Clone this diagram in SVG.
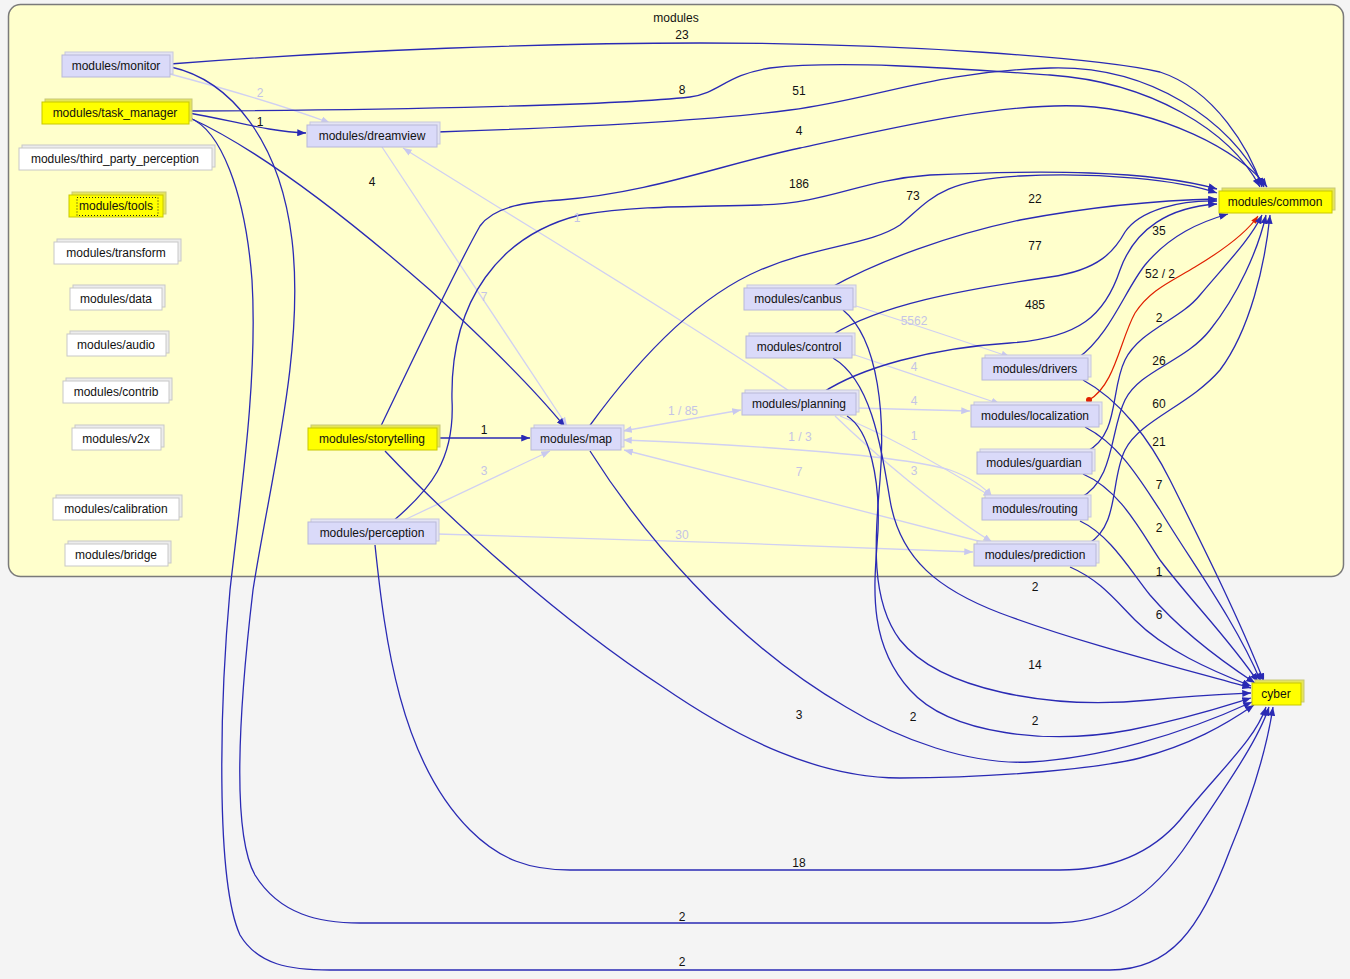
<svg xmlns="http://www.w3.org/2000/svg" width="1350" height="979" viewBox="0 0 1350 979">
<style>
.node text{font-family:"Liberation Sans",Arial,sans-serif;font-size:12px;text-anchor:middle;fill:#111}
.lav .back{fill:#e4e4f4;stroke:#c8c8dc}
.lav .front{fill:#dadaf9;stroke:#b8b8d8}
.yel .back{fill:#e6e658;stroke:#c8c878}
.yel .front{fill:#ffff00;stroke:#c8c800}
.wht .back{fill:#ececec;stroke:#c8c8c8}
.wht .front{fill:#ffffff;stroke:#c8c8c8}
.e{fill:none;stroke:#2a2ab4;stroke-width:1.3}
.l{fill:none;stroke:#d0d0f2;stroke-width:1.3}
.r{fill:none;stroke:#e02000;stroke-width:1.2}
.lb{font-family:"Liberation Sans",Arial,sans-serif;font-size:12px;text-anchor:middle;fill:#111}
.ll{fill:#c4c4e6}
</style>
<defs>
<marker id="a" viewBox="0 0 10 8" refX="10" refY="4" markerWidth="9" markerHeight="7" orient="auto" markerUnits="userSpaceOnUse"><path d="M0,0L10,4L0,8z" fill="#2a2ab4"/></marker>
<marker id="al" viewBox="0 0 10 8" refX="10" refY="4" markerWidth="9" markerHeight="7" orient="auto" markerUnits="userSpaceOnUse"><path d="M0,0L10,4L0,8z" fill="#c8c8ee"/></marker>
<marker id="als" viewBox="0 0 10 8" refX="10" refY="4" markerWidth="9" markerHeight="7" orient="auto-start-reverse" markerUnits="userSpaceOnUse"><path d="M0,0L10,4L0,8z" fill="#c8c8ee"/></marker>
<marker id="ar" viewBox="0 0 10 8" refX="10" refY="4" markerWidth="8" markerHeight="6" orient="auto" markerUnits="userSpaceOnUse"><path d="M0,0L10,4L0,8z" fill="#e02000"/></marker>
<marker id="dr" viewBox="0 0 10 10" refX="5" refY="5" markerWidth="6" markerHeight="6" markerUnits="userSpaceOnUse"><circle cx="5" cy="5" r="5" fill="#e02000"/></marker>
</defs>
<rect x="0" y="0" width="1350" height="979" fill="#f4f4f4"/>
<g id="cluster-modules">
<rect x="8.5" y="4.5" width="1335" height="572" rx="12" fill="#ffffcc" stroke="#7a7a7a" stroke-width="1.5"/>
<text x="676" y="22" style="font-family:'Liberation Sans',Arial,sans-serif;font-size:12px;text-anchor:middle;fill:#111">modules</text>
</g>
<g id="edges">
<path class="l" d="M170,74 C230,90 290,108 330,123" marker-end="url(#al)"/>
<path class="l" d="M382,147 L567,426" marker-end="url(#al)"/>
<path class="l" d="M792,393 C700,330 550,240 403,148" marker-end="url(#al)"/>
<path class="l" d="M623,431 L741,410" marker-start="url(#als)" marker-end="url(#als)"/>
<path class="l" d="M623,440 C750,445 900,455 950,470 C972,478 985,488 992,497" marker-start="url(#als)" marker-end="url(#als)"/>
<path class="l" d="M990,544 C900,520 750,482 624,450" marker-end="url(#al)"/>
<path class="l" d="M400,522 L550,451" marker-end="url(#al)"/>
<path class="l" d="M437,534 C600,538 800,545 973,552" marker-end="url(#al)"/>
<path class="l" d="M853,305 C900,320 960,340 1010,357" marker-end="url(#al)"/>
<path class="l" d="M852,354 C900,370 960,390 1000,404" marker-end="url(#al)"/>
<path class="l" d="M856,408 C900,409 940,410 970,411" marker-end="url(#al)"/>
<path class="l" d="M840,416 C880,432 940,465 992,497" marker-end="url(#al)"/>
<path class="l" d="M835,416 C870,450 940,510 992,542" marker-end="url(#al)"/>
<path class="e" d="M170,64 C350,50 550,43 700,43 C900,43 1100,58 1160,72 C1215,90 1250,150 1262,187" marker-end="url(#a)"/>
<path class="e" d="M189,111 C400,110 620,105 690,97 C720,93 725,75 770,68 C840,60 950,68 1050,75 C1150,82 1230,130 1260,187" marker-end="url(#a)"/>
<path class="e" d="M437,132 C560,128 700,122 790,110 C880,98 930,72 1050,68 C1150,65 1230,120 1264,187" marker-end="url(#a)"/>
<path class="e" d="M380,428 C420,345 455,270 480,226 C495,205 530,202 560,200 C650,193 720,165 800,148 C900,126 1000,103 1080,106 C1160,110 1240,150 1267,187" marker-end="url(#a)"/>
<path class="e" d="M392,522 C430,490 455,460 452,400 C450,300 500,235 580,215 C640,205 700,207 760,205 C830,203 860,180 930,175 C1040,170 1150,170 1217,189" marker-end="url(#a)"/>
<path class="e" d="M588,428 C630,370 690,300 760,270 C820,245 870,245 900,225 C930,200 940,180 1020,176 C1100,172 1180,180 1217,193" marker-end="url(#a)"/>
<path class="e" d="M830,288 C880,260 950,235 1020,220 C1100,205 1170,200 1217,199" marker-end="url(#a)"/>
<path class="e" d="M832,335 C880,305 960,290 1050,277 C1100,270 1115,250 1125,232 C1140,210 1180,200 1217,201" marker-end="url(#a)"/>
<path class="e" d="M822,393 C860,368 930,348 1010,343 C1080,338 1105,315 1120,270 C1135,228 1170,207 1217,204" marker-end="url(#a)"/>
<path class="e" d="M1078,358 C1110,335 1125,290 1145,265 C1170,235 1200,222 1228,214" marker-end="url(#a)"/>
<path class="r" d="M1089,400 C1115,385 1120,340 1135,313 C1150,290 1170,282 1195,267 C1220,252 1245,235 1258,216" marker-start="url(#dr)" marker-end="url(#ar)"/>
<path class="e" d="M1086,452 C1120,435 1110,390 1125,360 C1140,330 1180,320 1200,295 C1225,265 1250,240 1262,215" marker-end="url(#a)"/>
<path class="e" d="M1080,498 C1115,480 1110,430 1125,400 C1140,370 1185,362 1210,330 C1238,295 1258,250 1266,215" marker-end="url(#a)"/>
<path class="e" d="M1088,544 C1120,525 1110,480 1125,450 C1140,420 1190,405 1220,370 C1250,330 1265,265 1270,215" marker-end="url(#a)"/>
<path class="e" d="M1083,380 C1120,400 1150,440 1170,480 C1200,540 1240,620 1264,682" marker-end="url(#a)"/>
<path class="e" d="M1085,427 C1120,445 1140,480 1160,510 C1190,560 1235,620 1261,682" marker-end="url(#a)"/>
<path class="e" d="M1083,474 C1120,490 1140,530 1160,560 C1190,600 1230,640 1258,682" marker-end="url(#a)"/>
<path class="e" d="M1080,521 C1110,535 1130,570 1150,595 C1180,630 1220,660 1255,683" marker-end="url(#a)"/>
<path class="e" d="M1070,567 C1100,580 1115,600 1135,620 C1165,650 1210,670 1251,686" marker-end="url(#a)"/>
<path class="e" d="M833,358 C870,380 880,440 890,500 C900,560 940,590 1000,613 C1080,643 1180,668 1251,688" marker-end="url(#a)"/>
<path class="e" d="M843,310 C880,340 885,420 880,480 C875,540 870,600 900,640 C940,690 1050,710 1150,700 C1200,695 1230,694 1251,693" marker-end="url(#a)"/>
<path class="e" d="M847,416 C870,430 880,480 878,530 C875,580 865,640 910,690 C950,735 1050,745 1130,730 C1190,718 1225,706 1251,698" marker-end="url(#a)"/>
<path class="e" d="M590,451 C640,530 730,640 846,707 C900,740 970,765 1030,762 C1100,758 1180,735 1252,702" marker-end="url(#a)"/>
<path class="e" d="M385,451 C450,520 560,620 663,687 C740,740 820,778 900,778 C1000,778 1100,768 1140,758 C1190,745 1225,725 1254,705" marker-end="url(#a)"/>
<path class="e" d="M375,545 C385,640 400,760 470,830 C500,860 530,870 570,870 L1060,870 C1110,870 1150,855 1180,820 C1220,770 1255,740 1266,707" marker-end="url(#a)"/>
<path class="e" d="M171,67 C230,80 280,140 292,240 C305,350 270,480 253,590 C240,700 230,830 255,875 C280,915 320,923 360,923 L1050,923 C1110,923 1150,900 1190,840 C1230,780 1258,740 1269,707" marker-end="url(#a)"/>
<path class="e" d="M190,118 C220,130 245,190 252,280 C258,380 240,500 230,590 C220,700 215,880 240,935 C258,965 290,970 330,970 L1110,970 C1170,970 1200,930 1230,850 C1255,790 1268,740 1273,707" marker-end="url(#a)"/>
<path class="e" d="M189,113 C230,120 270,132 306,133" marker-end="url(#a)"/>
<path class="e" d="M190,118 C260,150 350,220 430,290 C490,345 535,390 565,427" marker-end="url(#a)"/>
<path class="e" d="M437,438 L530,438" marker-end="url(#a)"/>
</g>
<g id="edge-labels">
<text class="lb" x="682" y="39">23</text>
<text class="lb" x="682" y="94">8</text>
<text class="lb" x="799" y="95">51</text>
<text class="lb" x="799" y="135">4</text>
<text class="lb" x="799" y="188">186</text>
<text class="lb" x="913" y="200">73</text>
<text class="lb" x="1035" y="203">22</text>
<text class="lb" x="1035" y="250">77</text>
<text class="lb" x="1035" y="309">485</text>
<text class="lb" x="1159" y="235">35</text>
<text class="lb" x="1160" y="278">52 / 2</text>
<text class="lb" x="1159" y="322">2</text>
<text class="lb" x="1159" y="365">26</text>
<text class="lb" x="1159" y="408">60</text>
<text class="lb" x="1159" y="446">21</text>
<text class="lb" x="1159" y="489">7</text>
<text class="lb" x="1159" y="532">2</text>
<text class="lb" x="1159" y="576">1</text>
<text class="lb" x="1159" y="619">6</text>
<text class="lb" x="1035" y="591">2</text>
<text class="lb" x="1035" y="669">14</text>
<text class="lb" x="1035" y="725">2</text>
<text class="lb" x="913" y="721">2</text>
<text class="lb" x="799" y="719">3</text>
<text class="lb" x="799" y="867">18</text>
<text class="lb" x="682" y="921">2</text>
<text class="lb" x="682" y="966">2</text>
<text class="lb" x="260" y="126">1</text>
<text class="lb" x="372" y="186">4</text>
<text class="lb" x="484" y="434">1</text>
<text class="lb ll" x="260" y="97">2</text>
<text class="lb ll" x="484" y="301">7</text>
<text class="lb ll" x="577" y="222">1</text>
<text class="lb ll" x="683" y="415">1 / 85</text>
<text class="lb ll" x="800" y="441">1 / 3</text>
<text class="lb ll" x="799" y="476">7</text>
<text class="lb ll" x="484" y="475">3</text>
<text class="lb ll" x="682" y="539">30</text>
<text class="lb ll" x="914" y="325">5562</text>
<text class="lb ll" x="914" y="371">4</text>
<text class="lb ll" x="914" y="405">4</text>
<text class="lb ll" x="914" y="440">1</text>
<text class="lb ll" x="914" y="475">3</text>
</g>
<g id="n-monitor" class="node lav"><rect class="back" x="65" y="52" width="108" height="22"/><rect class="front" x="62" y="55" width="108" height="22"/><text x="116" y="70">modules/monitor</text></g>
<g id="n-task_manager" class="node yel"><rect class="back" x="45" y="99" width="147" height="22"/><rect class="front" x="42" y="102" width="147" height="22"/><text x="115" y="117">modules/task_manager</text></g>
<g id="n-third_party_perception" class="node wht"><rect class="back" x="22" y="145" width="193" height="22"/><rect class="front" x="19" y="148" width="193" height="22"/><text x="115" y="163">modules/third_party_perception</text></g>
<g id="n-tools" class="node yel"><rect class="back" x="72" y="192" width="94" height="22"/><rect class="front" x="69" y="195" width="94" height="22"/><rect x="77" y="197.5" width="81" height="18" fill="none" stroke="#222" stroke-width="1" stroke-dasharray="1,2"/><text x="116" y="210">modules/tools</text></g>
<g id="n-transform" class="node wht"><rect class="back" x="57" y="239" width="124" height="22"/><rect class="front" x="54" y="242" width="124" height="22"/><text x="116" y="257">modules/transform</text></g>
<g id="n-data" class="node wht"><rect class="back" x="73" y="285" width="92" height="22"/><rect class="front" x="70" y="288" width="92" height="22"/><text x="116" y="303">modules/data</text></g>
<g id="n-audio" class="node wht"><rect class="back" x="70" y="331" width="99" height="22"/><rect class="front" x="67" y="334" width="99" height="22"/><text x="116" y="349">modules/audio</text></g>
<g id="n-contrib" class="node wht"><rect class="back" x="66" y="378" width="106" height="22"/><rect class="front" x="63" y="381" width="106" height="22"/><text x="116" y="396">modules/contrib</text></g>
<g id="n-v2x" class="node wht"><rect class="back" x="75" y="425" width="89" height="22"/><rect class="front" x="72" y="428" width="89" height="22"/><text x="116" y="443">modules/v2x</text></g>
<g id="n-calibration" class="node wht"><rect class="back" x="56" y="495" width="126" height="22"/><rect class="front" x="53" y="498" width="126" height="22"/><text x="116" y="513">modules/calibration</text></g>
<g id="n-bridge" class="node wht"><rect class="back" x="68" y="541" width="103" height="22"/><rect class="front" x="65" y="544" width="103" height="22"/><text x="116" y="559">modules/bridge</text></g>
<g id="n-dreamview" class="node lav"><rect class="back" x="310" y="122" width="130" height="22"/><rect class="front" x="307" y="125" width="130" height="22"/><text x="372" y="140">modules/dreamview</text></g>
<g id="n-storytelling" class="node yel"><rect class="back" x="311" y="425" width="129" height="22"/><rect class="front" x="308" y="428" width="129" height="22"/><text x="372" y="443">modules/storytelling</text></g>
<g id="n-perception" class="node lav"><rect class="back" x="311" y="519" width="128" height="22"/><rect class="front" x="308" y="522" width="128" height="22"/><text x="372" y="537">modules/perception</text></g>
<g id="n-map" class="node lav"><rect class="back" x="534" y="425" width="90" height="22"/><rect class="front" x="531" y="428" width="90" height="22"/><text x="576" y="443">modules/map</text></g>
<g id="n-canbus" class="node lav"><rect class="back" x="747" y="285" width="109" height="22"/><rect class="front" x="744" y="288" width="109" height="22"/><text x="798" y="303">modules/canbus</text></g>
<g id="n-control" class="node lav"><rect class="back" x="749" y="333" width="106" height="22"/><rect class="front" x="746" y="336" width="106" height="22"/><text x="799" y="351">modules/control</text></g>
<g id="n-planning" class="node lav"><rect class="back" x="745" y="390" width="114" height="22"/><rect class="front" x="742" y="393" width="114" height="22"/><text x="799" y="408">modules/planning</text></g>
<g id="n-drivers" class="node lav"><rect class="back" x="985" y="355" width="106" height="22"/><rect class="front" x="982" y="358" width="106" height="22"/><text x="1035" y="373">modules/drivers</text></g>
<g id="n-localization" class="node lav"><rect class="back" x="974" y="402" width="128" height="22"/><rect class="front" x="971" y="405" width="128" height="22"/><text x="1035" y="420">modules/localization</text></g>
<g id="n-guardian" class="node lav"><rect class="back" x="980" y="449" width="115" height="22"/><rect class="front" x="977" y="452" width="115" height="22"/><text x="1034" y="467">modules/guardian</text></g>
<g id="n-routing" class="node lav"><rect class="back" x="985" y="495" width="106" height="22"/><rect class="front" x="982" y="498" width="106" height="22"/><text x="1035" y="513">modules/routing</text></g>
<g id="n-prediction" class="node lav"><rect class="back" x="977" y="541" width="122" height="22"/><rect class="front" x="974" y="544" width="122" height="22"/><text x="1035" y="559">modules/prediction</text></g>
<g id="n-common" class="node yel"><rect class="back" x="1222" y="188" width="113" height="22"/><rect class="front" x="1219" y="191" width="113" height="22"/><text x="1275" y="206">modules/common</text></g>
<g id="n-cyber" class="node yel"><rect class="back" x="1255" y="680" width="49" height="22"/><rect class="front" x="1252" y="683" width="49" height="22"/><text x="1276" y="698">cyber</text></g>
</svg>
